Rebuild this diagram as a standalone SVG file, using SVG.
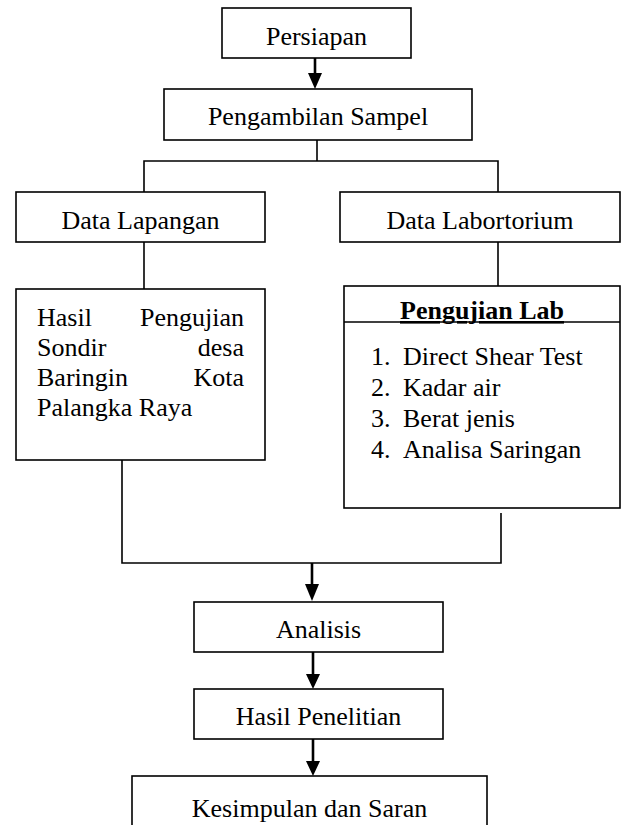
<svg xmlns="http://www.w3.org/2000/svg" width="632" height="825" viewBox="0 0 632 825">
<style>
  .box { fill: #ffffff; stroke: #000000; stroke-width: 1.6; }
  .ln { fill: none; stroke: #000000; stroke-width: 1.6; }
  .ar { fill: none; stroke: #000000; stroke-width: 2.6; }
  .t { font-family: "Liberation Serif", "Times New Roman", serif; font-size: 26px; fill: #000000; }
  .c { text-anchor: middle; }
  .e { text-anchor: end; }
  .b { font-weight: bold; text-decoration: underline; }
</style>
<rect width="632" height="825" fill="#ffffff"/>

<g id="connectors">
  <line class="ar" x1="315" y1="58" x2="315" y2="74"/>
  <path d="M308,73 L322,73 L315,89 Z" fill="#000"/>
  <polyline class="ln" points="317,140 317,161"/>
  <polyline class="ln" points="144,192 144,161 498,161 498,192"/>
  <line class="ln" x1="144" y1="242" x2="144" y2="289"/>
  <line class="ln" x1="498" y1="242" x2="498" y2="286"/>
  <polyline class="ln" points="122,460 122,563 501,563 501,513"/>
  <line class="ar" x1="312" y1="563" x2="312" y2="585"/>
  <path d="M305,584 L319,584 L312,601 Z" fill="#000"/>
  <line class="ar" x1="313" y1="652" x2="313" y2="675"/>
  <path d="M306,674 L320,674 L313,689 Z" fill="#000"/>
  <line class="ar" x1="313" y1="739" x2="313" y2="762"/>
  <path d="M306,761 L320,761 L313,776 Z" fill="#000"/>
</g>

<g id="persiapan">
  <rect class="box" x="222" y="8" width="189" height="50"/>
  <text class="t c" x="316.5" y="45">Persiapan</text>
</g>

<g id="pengambilan-sampel">
  <rect class="box" x="164" y="89" width="308" height="51"/>
  <text class="t c" x="318" y="125">Pengambilan Sampel</text>
</g>

<g id="data-lapangan">
  <rect class="box" x="16" y="192" width="249" height="50"/>
  <text class="t c" x="140.5" y="229">Data Lapangan</text>
</g>

<g id="data-labortorium">
  <rect class="box" x="340" y="192" width="280" height="50"/>
  <text class="t c" x="480" y="229">Data Labortorium</text>
</g>

<g id="hasil-pengujian-sondir">
  <rect class="box" x="16" y="289" width="249" height="171"/>
  <text class="t" x="37" y="326">Hasil</text>
  <text class="t e" x="244" y="326">Pengujian</text>
  <text class="t" x="37" y="356">Sondir</text>
  <text class="t e" x="244" y="356">desa</text>
  <text class="t" x="37" y="386">Baringin</text>
  <text class="t e" x="244" y="386">Kota</text>
  <text class="t" x="37" y="416">Palangka Raya</text>
</g>

<g id="pengujian-lab">
  <rect class="box" x="344" y="286" width="276" height="222"/>
  <line class="ln" x1="344" y1="322" x2="620" y2="322"/>
  <text class="t c b" x="482" y="319">Pengujian Lab</text>
  <text class="t" x="371" y="365">1.</text>
  <text class="t" x="403" y="365">Direct Shear Test</text>
  <text class="t" x="371" y="396">2.</text>
  <text class="t" x="403" y="396">Kadar air</text>
  <text class="t" x="371" y="427">3.</text>
  <text class="t" x="403" y="427">Berat jenis</text>
  <text class="t" x="371" y="458">4.</text>
  <text class="t" x="403" y="458">Analisa Saringan</text>
</g>

<g id="analisis">
  <rect class="box" x="194" y="602" width="249" height="50"/>
  <text class="t c" x="318.5" y="638">Analisis</text>
</g>

<g id="hasil-penelitian">
  <rect class="box" x="194" y="689" width="249" height="50"/>
  <text class="t c" x="318.5" y="725">Hasil Penelitian</text>
</g>

<g id="kesimpulan-dan-saran">
  <rect class="box" x="132" y="776" width="355" height="60"/>
  <text class="t c" x="309.5" y="817">Kesimpulan dan Saran</text>
</g>
</svg>
